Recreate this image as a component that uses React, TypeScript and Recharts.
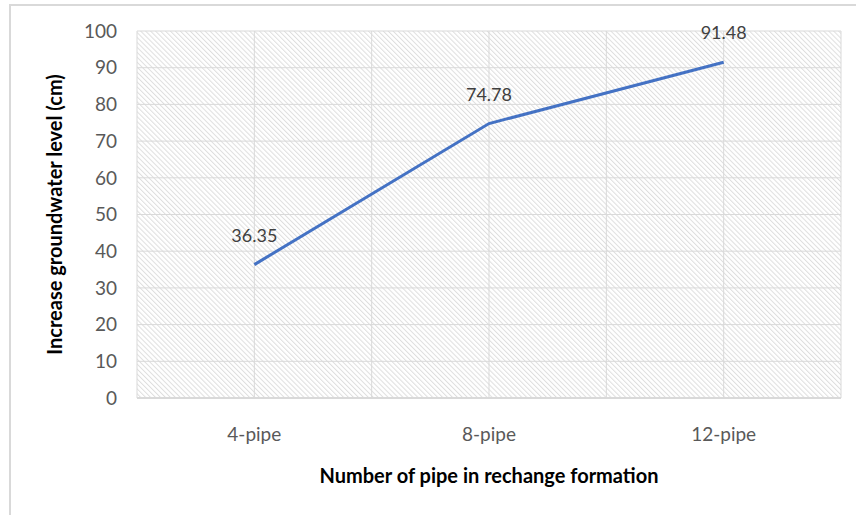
import { CartesianGrid, LabelList, Line, LineChart, ReferenceLine, XAxis, YAxis } from "recharts";

const categories = ["4-pipe", "8-pipe", "12-pipe"];
const increaseLevel = [36.35, 74.78, 91.48];
const yTicks = [0, 10, 20, 30, 40, 50, 60, 70, 80, 90, 100];
const xTitle = "Number of pipe in rechange formation";
const yTitle = "Increase groundwater level (cm)";

// each category sits in the middle of a unit slot, so the grid can split slots in half
const data = categories.map((name, i) => ({ pos: i + 0.5, name, value: increaseLevel[i] }));
const catTicks = data.map((d) => d.pos);
const gridX = Array.from({ length: categories.length * 2 + 1 }, (_, i) => i / 2);

const FONT = "Lato, 'Open Sans', sans-serif";
const GRID = "#d9d9d9";

const XTitle = ({ viewBox }: any) => (
  <text
    x={viewBox.x + viewBox.width / 2}
    y={viewBox.y + 85}
    textAnchor="middle"
    fontFamily={FONT}
    fontWeight={700}
    fontSize={20}
    fill="#000"
  >
    {xTitle}
  </text>
);

const YTitle = ({ viewBox }: any) => {
  const cx = 54;
  const cy = viewBox.y + viewBox.height / 2;
  return (
    <text
      x={cx}
      y={cy}
      transform={`rotate(-90 ${cx} ${cy})`}
      textAnchor="middle"
      dominantBaseline="central"
      fontFamily={FONT}
      fontWeight={700}
      fontSize={20}
      fill="#000"
    >
      {yTitle}
    </text>
  );
};

export default function App() {
  return (
    <div
      style={{
        position: "absolute",
        left: 0,
        top: 0,
        width: 856,
        height: 515,
        overflow: "hidden",
        background: "#fff",
      }}
    >
      <div
        style={{
          position: "absolute",
          left: 9,
          top: 4,
          right: 0,
          bottom: 0,
          borderLeft: `2px solid ${GRID}`,
          borderTop: `2px solid ${GRID}`,
        }}
      />
      <LineChart
        width={856}
        height={515}
        data={data}
        margin={{ top: 31, right: 15, bottom: 0, left: 0 }}
        style={{ position: "absolute", left: 0, top: 0 }}
      >
        <defs>
          <pattern id="hatch" width="3.5" height="3.5" patternUnits="userSpaceOnUse" patternTransform="rotate(-45)">
            <rect width="3.5" height="3.5" fill="#fff" />
            <line x1="0.5" y1="0" x2="0.5" y2="3.5" stroke="#dedede" strokeWidth="1" />
          </pattern>
        </defs>
        <CartesianGrid vertical={false} stroke={GRID} fill="url(#hatch)" fillOpacity={1} />
        {gridX.map((x) => (
          <ReferenceLine key={x} x={x} stroke={GRID} strokeWidth={1} />
        ))}
        <XAxis
          dataKey="pos"
          type="number"
          domain={[0, categories.length]}
          ticks={catTicks}
          tickFormatter={(v: number) => categories[Math.floor(v)]}
          height={117}
          tickLine={false}
          axisLine={{ stroke: GRID, strokeWidth: 2 }}
          tickMargin={24}
          tick={{ fill: "#595959", fontSize: 19, fontFamily: FONT }}
          label={{ content: XTitle }}
        />
        <YAxis
          domain={[0, 100]}
          ticks={yTicks}
          width={137}
          tickLine={false}
          axisLine={false}
          tickSize={6}
          tickMargin={14}
          tick={{ fill: "#595959", fontSize: 19, fontFamily: FONT }}
          label={{ content: YTitle }}
        />
        <Line
          dataKey="value"
          stroke="#4472C4"
          strokeWidth={3}
          dot={false}
          isAnimationActive={false}
        >
          <LabelList
            dataKey="value"
            position="top"
            offset={23}
            fill="#404040"
            fontSize={18}
            fontFamily={FONT}
            formatter={(v: any) => Number(v).toFixed(2)}
          />
        </Line>
      </LineChart>
    </div>
  );
}
